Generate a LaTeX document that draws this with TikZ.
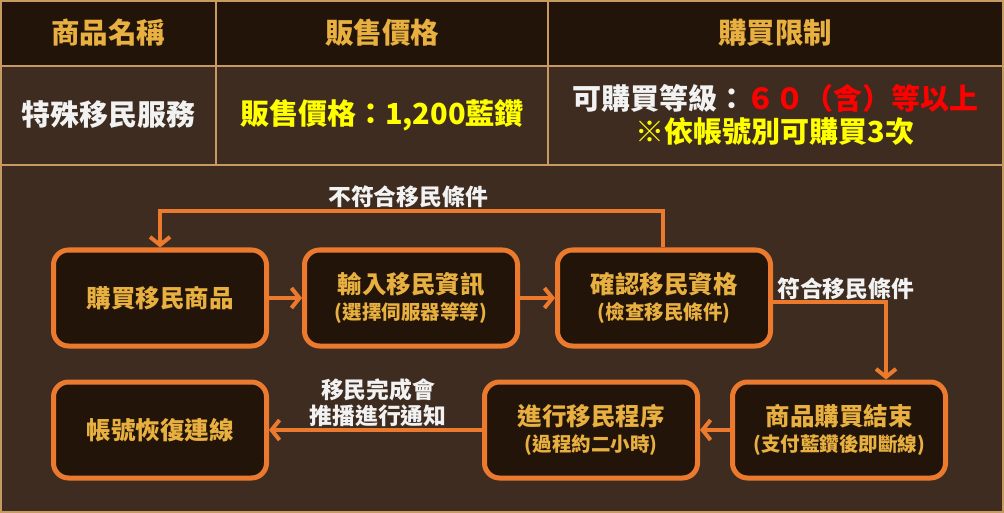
\documentclass[tikz,border=0pt]{standalone}
\usepackage{fontspec}
\setmainfont{Noto Sans CJK TC}
\usetikzlibrary{arrows.meta,calc}
\definecolor{dark}{HTML}{231409}
\definecolor{brownbg}{HTML}{3D2C1F}
\definecolor{tanline}{HTML}{C79A62}
\definecolor{orangeln}{HTML}{EC7A2E}
\definecolor{gold}{HTML}{E8B040}
\definecolor{whitetx}{HTML}{F2F2F2}
\definecolor{yel}{HTML}{FFFF00}
\definecolor{redtx}{HTML}{FF0000}
\newcommand{\mtxfont}{\fontsize{24.5}{28}\selectfont\bfseries}
\newcommand{\stxfont}{\fontsize{19.5}{22}\selectfont\bfseries}
\begin{document}
\begin{tikzpicture}[x=1pt,y=-1pt,
  box/.style={draw=orangeln, line width=5pt, fill=dark, rounded corners=15pt,
    minimum width=213pt, minimum height=96pt, align=center, text=gold, inner sep=0pt},
  conn/.style={draw=orangeln, line width=4pt, -{Straight Barb[length=8pt,width=20pt]}},
  lbl/.style={text=whitetx, font=\fontsize{22.8}{26}\selectfont\bfseries, align=center, inner sep=0pt},
  head/.style={text=gold, font=\fontsize{28.5}{30}\selectfont\bfseries, inner sep=0pt},
  cell/.style={font=\fontsize{29}{33}\selectfont\bfseries, inner sep=0pt, align=center},
]
\useasboundingbox (0,0) rectangle (1004,513);
\fill[brownbg] (0,0) rectangle (1004,513);
\fill[dark] (0,0) rectangle (1004,66);
\draw[tanline, line width=2pt] (1,1) rectangle (1003,512);
\draw[tanline, line width=2pt] (0,66) -- (1004,66) (0,165) -- (1004,165)
  (216,0) -- (216,165) (548,0) -- (548,165);

\node[head] (h1) at (108,33) {商品名稱};
\node[head] (h2) at (382,33) {販售價格};
\node[head] (h3) at (775,33) {購買限制};

\node[cell, text=whitetx] (c1) at (108,115) {特殊移民服務};
\node[cell, text=yel] (c2) at (382,115) {販售價格：1,200藍鑽};
\node[cell] (c3) at (775,115) {\textcolor{whitetx}{可購買等級：}\textcolor{redtx}{６０（含）等以上}\\\textcolor{yel}{※依帳號別可購買3次}};

\node[box] (b1) at (160,298) {\mtxfont 購買移民商品};
\node[box] (b2) at (411,298) {\mtxfont 輸入移民資訊\\[5pt]{\stxfont (選擇伺服器等等)}};
\node[box] (b3) at (664,298) {\mtxfont 確認移民資格\\[5pt]{\stxfont (檢查移民條件)}};
\node[box] (b4) at (839,430) {\mtxfont 商品購買結束\\[5pt]{\stxfont (支付藍鑽後即斷線)}};
\node[box] (b5) at (591,430) {\mtxfont 進行移民程序\\[5pt]{\stxfont (過程約二小時)}};
\node[box] (b6) at (160,430) {\mtxfont 帳號恢復連線};

\draw[conn] (b1) -- (b2);
\draw[conn] (b2) -- (b3);
\coordinate (lt) at (663,211);
\draw[conn] (b3.north -| lt) -- (lt) -| (b1.north);
\node[lbl] (l1) at (408,197) {不符合移民條件};
\coordinate (rt) at (886,302);
\draw[conn] (b3.east |- rt) -- (rt) -- (rt |- b4.north);
\node[lbl, anchor=west] (l2) at (777,289) {符合移民條件};
\draw[conn] (b4) -- (b5);
\draw[conn] (b5) -- (b6);
\node[lbl] (l3) at (378,403) {移民完成會\\推播進行通知};
\end{tikzpicture}
\end{document}
